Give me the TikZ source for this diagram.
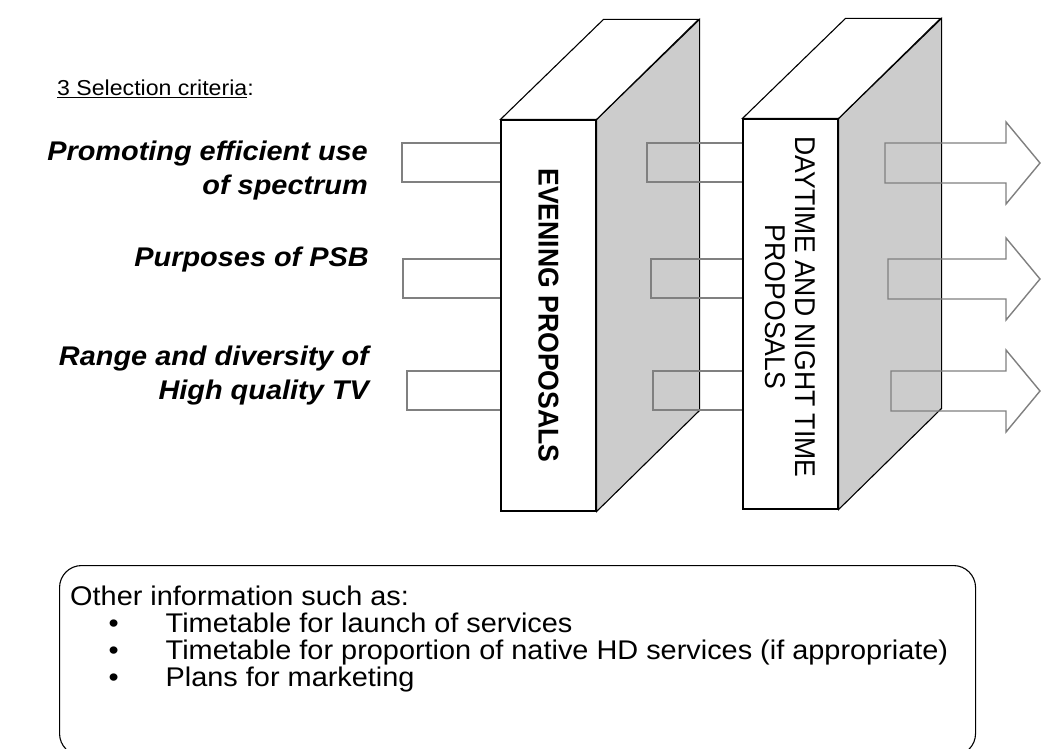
\documentclass[tikz,border=0pt]{standalone}
\usepackage{fontspec}
\setmainfont{Liberation Sans}[FakeStretch=1.07]
\newfontfamily\sidefont{Liberation Sans}[FakeStretch=0.93]

\newcommand{\infoitem}[1]{\hspace*{38.5pt}\makebox[57pt][l]{\textbullet}#1}

\tikzset{
  frontface/.style={draw, line width=1.1pt, fill=white, inner sep=0pt, minimum width=95pt, minimum height=391pt},
  sideface/.style={draw, line width=1.1pt, fill=black!20},
  lid/.style={draw, line width=1.1pt, fill=white},
  bar/.style={draw=gray, line width=1.4pt, fill=white},
  crit/.style={anchor=north east, inner sep=0pt, align=right, font=\fontsize{27}{34}\selectfont\bfseries\itshape},
  slabtext/.style={rotate=-90, inner sep=0pt, align=center, font=\sidefont\fontsize{28.6}{30}\selectfont},
  infobox/.style={draw, line width=1.1pt, rounded corners=22pt, inner sep=0pt, minimum width=916pt, minimum height=190pt},
}

\begin{document}
\begin{tikzpicture}[x=1pt, y=-1pt]
    \path[use as bounding box, fill=white] (0,0) rectangle (1041,749);

    % evening slab
    \node[frontface] (eve) at (548.5,315.5) {};
    \draw[sideface] (eve.north east) -- ++(103,-100) -- ++(0,391) -- (eve.south east) -- cycle;
    \draw[lid] (eve.north west) -- ++(103,-100) -- ++(95,0) -- (eve.north east) -- cycle;
    \node[slabtext] (eve-txt) at (eve.center) {\bfseries EVENING PROPOSALS};

    % daytime slab
    \node[frontface, minimum height=390pt] (dnt) at (790.5,314) {};
    \draw[sideface] (dnt.north east) -- ++(103,-100) -- ++(0,390) -- (dnt.south east) -- cycle;
    \draw[lid] (dnt.north west) -- ++(103,-100) -- ++(95,0) -- (dnt.north east) -- cycle;
    \node[slabtext] (dnt-txt) at ([yshift=7pt]dnt.center) {DAYTIME AND NIGHT TIME\\PROPOSALS};

    % bars
    \begin{scope}[bar]
        \foreach \ya/\yb/\xs in {143/182/402, 259/298/403, 371/410/407}
            \draw (eve.west |- 0,\ya) -- (\xs,\ya) -- (\xs,\yb) -- (eve.west |- 0,\yb);
        \foreach \ya/\yb/\xs in {143/182/647, 259/298/651, 371/410/653}
            \draw (dnt.west |- 0,\ya) -- (\xs,\ya) -- (\xs,\yb) -- (dnt.west |- 0,\yb);
        \foreach \ya/\yb/\xs in {143/183/885, 259/299/888, 371/411/891}
            \draw (\xs,\ya) -- (1006,\ya) -- (1006,\ya-21) -- (1040,{(\ya+\yb)/2})
                -- (1006,\yb+21) -- (1006,\yb) -- (\xs,\yb) -- cycle;
    \end{scope}

    % criteria
    \node[anchor=north west, inner sep=0pt, font=\fontsize{21.6}{23}\selectfont] (heading) at (57,80) {\underline{3 Selection criteria}:};
    \node[crit] (spectrum) at (368,141) {Promoting efficient use\\of spectrum};
    \node[crit] (psb) at (369,247) {Purposes of PSB};
    \node[crit] (range) at (369,346) {Range and diversity of\\High quality TV};

    % other information
    \node[infobox, anchor=north west] (info) at (59,565) {};
    \node[anchor=north west, inner sep=0pt, align=left, font=\fontsize{27}{27}\selectfont] (infotext) at (70,586)
        {Other information such as:\\\infoitem{Timetable for launch of services}\\\infoitem{Timetable for proportion of native HD services (if appropriate)}\\\infoitem{Plans for marketing}};
\end{tikzpicture}
\end{document}
